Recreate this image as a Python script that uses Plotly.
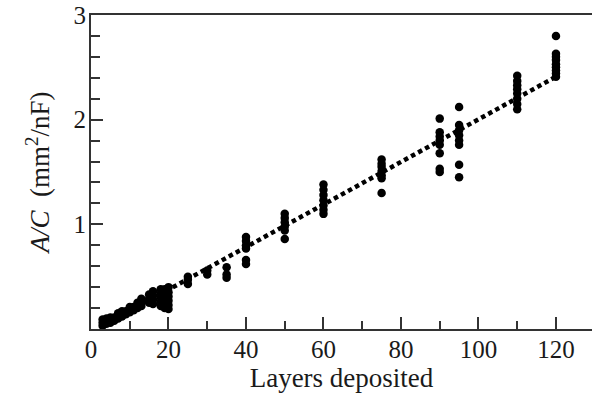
import plotly.graph_objects as go

# Data
layers = ([3]*3 + [4]*3 + [5]*3 + [6]*2 + [7]*3 + [8]*3 + [9]*2 + [10]*3 + [11]*2 + [12]*3 +
          [13]*3 + [15]*3 + [16]*4 + [18]*5 + [19]*5 + [20]*6 + [25]*3 + [30]*2 + [35]*3 +
          [40]*6 + [50]*6 + [60]*7 + [75]*7 + [90]*8 + [95]*8 + [110]*8 + [120]*9)
ac = [0.03, 0.06, 0.09,
      0.05, 0.08, 0.10,
      0.06, 0.09, 0.11,
      0.08, 0.11,
      0.10, 0.13, 0.15,
      0.12, 0.15, 0.17,
      0.14, 0.17,
      0.16, 0.19, 0.21,
      0.18, 0.21,
      0.20, 0.23, 0.25,
      0.22, 0.26, 0.29,
      0.25, 0.29, 0.33,
      0.24, 0.28, 0.32, 0.36,
      0.22, 0.26, 0.30, 0.34, 0.38,
      0.20, 0.24, 0.28, 0.33, 0.38,
      0.19, 0.23, 0.27, 0.31, 0.35, 0.40,
      0.43, 0.47, 0.50,
      0.52, 0.56,
      0.49, 0.52, 0.59,
      0.62, 0.66, 0.77, 0.80, 0.84, 0.88,
      0.86, 0.94, 0.98, 1.02, 1.06, 1.10,
      1.10, 1.14, 1.18, 1.23, 1.28, 1.33, 1.38,
      1.30, 1.44, 1.47, 1.51, 1.55, 1.58, 1.62,
      1.50, 1.53, 1.68, 1.76, 1.80, 1.84, 1.88, 2.01,
      1.45, 1.57, 1.76, 1.80, 1.85, 1.90, 1.95, 2.12,
      2.10, 2.15, 2.20, 2.25, 2.29, 2.33, 2.37, 2.42,
      2.41, 2.44, 2.47, 2.50, 2.53, 2.57, 2.60, 2.63, 2.80]

fit_x = [3, 120]
fit_y = [0.03, 2.41]

x_ticks = [0, 20, 40, 60, 80, 100, 120]
y_ticks = [1, 2, 3]

FONT = "Liberation Serif, Times New Roman, Times, serif"

fig = go.Figure()
fig.add_trace(go.Scatter(x=layers, y=ac, mode="markers",
                         marker=dict(color="black", size=8.5, line=dict(width=0)),
                         showlegend=False))
fig.add_trace(go.Scatter(x=fit_x, y=fit_y, mode="lines",
                         line=dict(color="black", width=4.5, dash="4.5px,3.5px"),
                         showlegend=False))

fig.update_layout(
    width=592, height=399,
    margin=dict(l=91, r=0, t=15, b=70),
    paper_bgcolor="white", plot_bgcolor="white",
    font=dict(family=FONT, size=25, color="#1a1a1a"),
    xaxis=dict(range=[0, 129.3], tickvals=x_ticks, ticks="inside", ticklen=12,
               tickwidth=1.5, tickcolor="#333", showline=True, linecolor="#333",
               linewidth=2, mirror=True, showgrid=False, zeroline=False,
               ticklabelstandoff=-3,
               minor=dict(dtick=10, tick0=0, ticks="inside", ticklen=8.5,
                          tickwidth=1.5, tickcolor="#333", showgrid=False),
               title=dict(text="Layers deposited", font=dict(size=27), standoff=0),
               automargin=False),
    yaxis=dict(range=[0, 3], tickvals=y_ticks, ticks="inside", ticklen=12,
               tickwidth=1.5, tickcolor="#333", showline=True, linecolor="#333",
               linewidth=2, showgrid=False, zeroline=False,
               ticklabelstandoff=-2,
               minor=dict(dtick=0.2, tick0=0, ticks="inside", ticklen=8.5,
                          tickwidth=1.5, tickcolor="#333", showgrid=False),
               title=dict(text="<i>A/C</i>  (mm<sup>2</sup>/nF)", font=dict(size=27), standoff=16),
               automargin=False),
)

fig.write_html("out.html", config={"displayModeBar": False},
               post_script="document.body.style.margin='0';document.body.style.overflow='hidden';")
